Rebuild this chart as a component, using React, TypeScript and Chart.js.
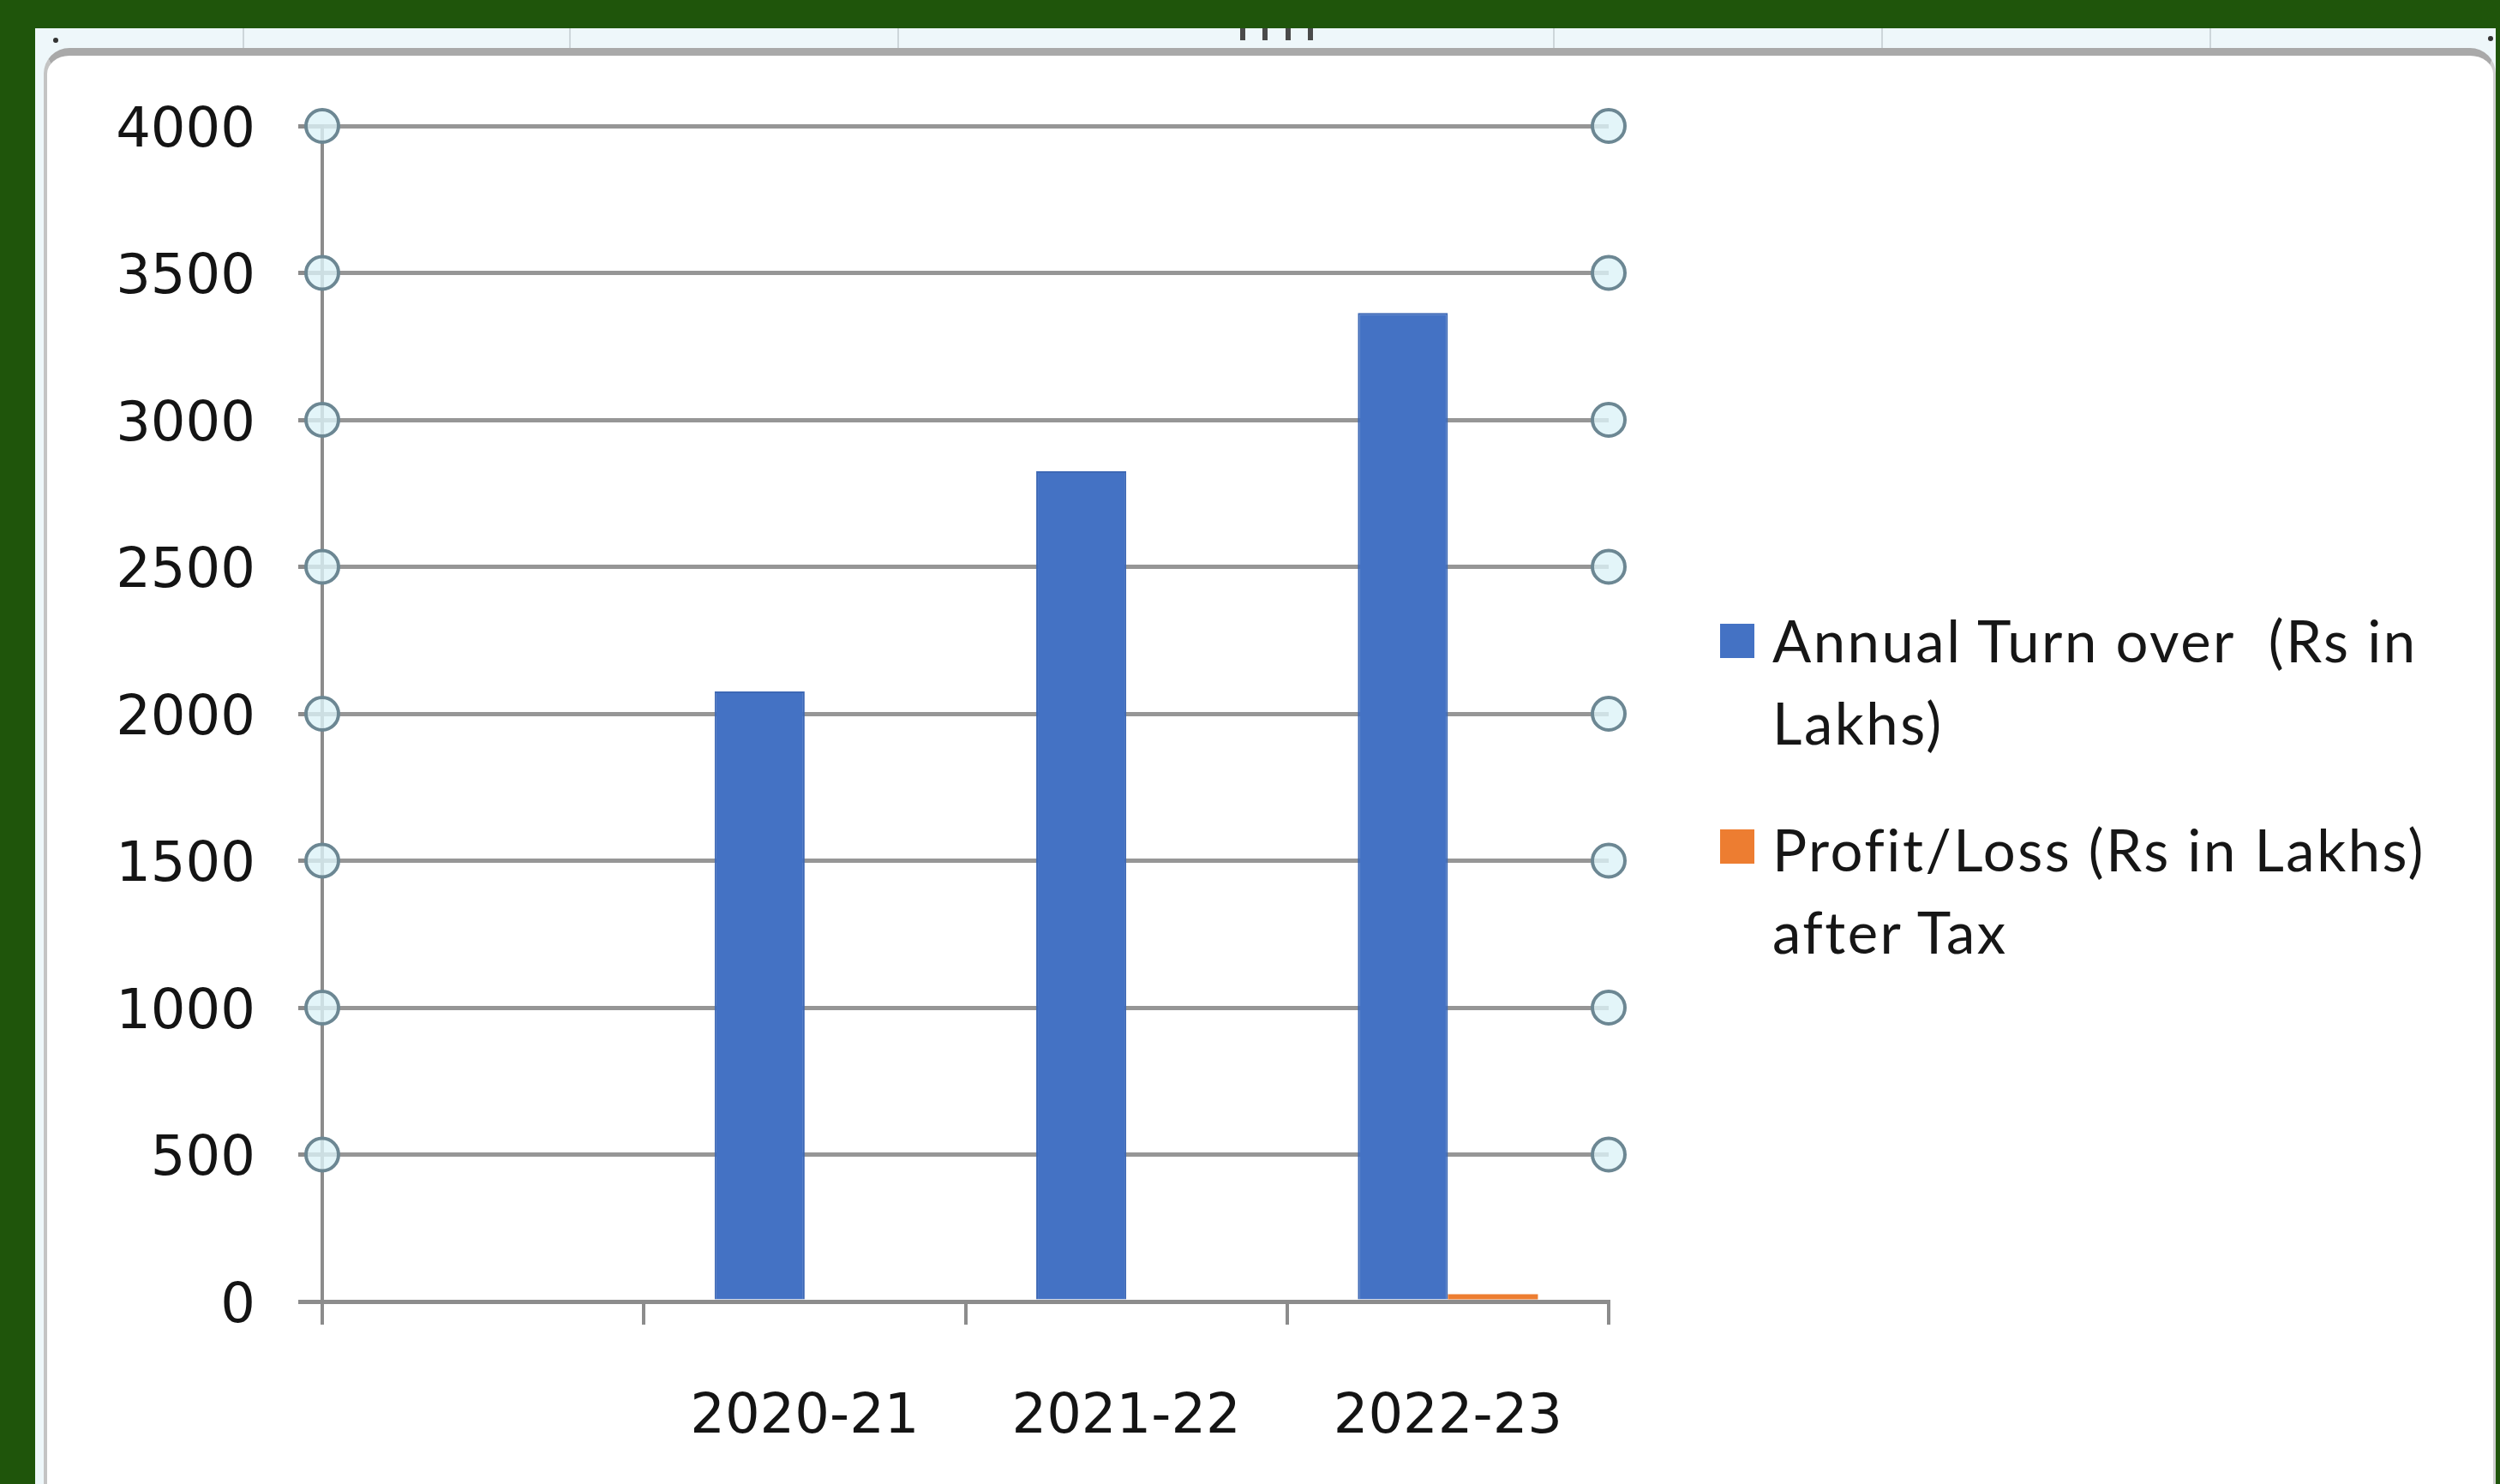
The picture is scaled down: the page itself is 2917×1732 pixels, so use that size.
import React, { useEffect, useRef } from 'react';
import { Chart, registerables } from 'chart.js';

Chart.register(...registerables);

// ---- data ----
const categories: string[] = ['', '2020-21', '2021-22', '2022-23'];
const turnover: (number | null)[] = [null, 2076, 2825, 3364];
const profitAfterTax: (number | null)[] = [null, 0, 0, 25];
const seriesNames: string[] = ['Annual Turn over  (Rs in Lakhs)', 'Profit/Loss (Rs in Lakhs) after Tax'];
const seriesColors: string[] = ['#4472c4', '#ed7d31'];
const yMin = 0;
const yMax = 4000;
const yStep = 500;

const W = 2917;
const H = 1732;

const gridHandles = {
  id: 'gridHandles',
  afterDraw(chart: any) {
    const { ctx, chartArea, scales } = chart;
    const y = scales.y;
    ctx.save();
    y.ticks.forEach((t: any) => {
      if (t.value === 0) return;
      const py = y.getPixelForValue(t.value);
      [chartArea.left, chartArea.right].forEach((px: number) => {
        ctx.beginPath();
        ctx.arc(px, py, 19, 0, Math.PI * 2);
        ctx.fillStyle = 'rgba(220,242,248,0.8)';
        ctx.fill();
        ctx.lineWidth = 4;
        ctx.strokeStyle = '#6c8793';
        ctx.stroke();
      });
    });
    ctx.restore();
  },
};

export default function App() {
  const canvasRef = useRef<HTMLCanvasElement | null>(null);

  useEffect(() => {
    const canvas = canvasRef.current;
    if (!canvas) return;
    const labelFont = { family: "'DejaVu Sans', Verdana, sans-serif", size: 64 };
    const chart = new Chart(canvas, {
      type: 'bar',
      data: {
        labels: categories,
        datasets: [
          {
            label: seriesNames[0],
            data: turnover,
            backgroundColor: seriesColors[0],
            borderColor: '#3d68b5',
            borderWidth: 2,
            categoryPercentage: 0.56,
            barPercentage: 1,
          },
          {
            label: seriesNames[1],
            data: profitAfterTax,
            backgroundColor: seriesColors[1],
            borderWidth: 0,
            categoryPercentage: 0.56,
            barPercentage: 1,
          },
        ],
      },
      options: {
        animation: false,
        responsive: false,
        maintainAspectRatio: false,
        devicePixelRatio: 1,
        layout: { padding: { left: 0, right: 1040, top: 147, bottom: 0 } },
        plugins: {
          legend: { display: false },
          tooltip: { enabled: false },
          title: { display: false },
        },
        scales: {
          x: {
            offset: true,
            grid: {
              offset: true,
              drawOnChartArea: false,
              drawTicks: true,
              tickLength: 27,
              color: '#8c8c8c',
              lineWidth: 4,
            },
            border: { display: true, color: '#8c8c8c', width: 5 },
            ticks: {
              font: labelFont,
              color: '#141414',
              padding: 71,
              maxRotation: 0,
              autoSkip: false,
            },
            afterFit: (s: any) => {
              s.height = 213;
            },
          },
          y: {
            min: yMin,
            max: yMax,
            grid: {
              color: '#969696',
              lineWidth: 5,
              tickLength: 28,
              tickColor: '#8c8c8c',
              drawTicks: true,
            },
            border: { display: true, color: '#8c8c8c', width: 4 },
            ticks: {
              stepSize: yStep,
              font: labelFont,
              color: '#141414',
              padding: 50,
              labelOffset: 7,
              callback: (v: any) => String(v),
            },
            afterFit: (s: any) => {
              s.width = 376;
            },
          },
        },
      },
      plugins: [gridHandles],
    });
    return () => chart.destroy();
  }, []);

  const colLines = [283, 664, 1047, 1812, 2195, 2578];
  const handleLines = [1447, 1473, 1500, 1526];
  const legendTops = [699, 943];
  const legendSquareTops = [728, 968];

  return (
    <div
      style={{
        position: 'fixed',
        left: 0,
        top: 0,
        width: W,
        height: H,
        background: '#1f550b',
        overflow: 'hidden',
      }}
    >
      <div
        style={{
          position: 'absolute',
          left: 41,
          top: 33,
          width: 2871,
          height: 1699,
          background: '#eef7fa',
        }}
      />
      {colLines.map((x) => (
        <div
          key={'c' + x}
          style={{ position: 'absolute', left: x, top: 33, width: 2, height: 24, background: '#cdd6da' }}
        />
      ))}
      {handleLines.map((x) => (
        <div
          key={'h' + x}
          style={{ position: 'absolute', left: x, top: 33, width: 6, height: 14, background: '#4a4a4a' }}
        />
      ))}
      <div style={{ position: 'absolute', left: 62, top: 44, width: 6, height: 6, borderRadius: 3, background: '#333' }} />
      <div style={{ position: 'absolute', left: 2903, top: 42, width: 6, height: 6, borderRadius: 3, background: '#333' }} />
      <div
        style={{
          position: 'absolute',
          left: 51,
          top: 56,
          width: 2861,
          height: 1700,
          boxSizing: 'border-box',
          background: '#ffffff',
          borderTop: '9px solid #a9a9a9',
          borderLeft: '4px solid #c4c4c4',
          borderRight: '3px solid #cfcfcf',
          borderTopLeftRadius: 30,
          borderTopRightRadius: 30,
        }}
      />
      <div style={{ position: 'absolute', left: 0, top: 0, width: W, height: H }}>
        <canvas ref={canvasRef} width={W} height={H} style={{ width: W, height: H, display: 'block' }} />
      </div>
      {seriesNames.map((name, i) => (
        <React.Fragment key={name}>
          <div
            style={{
              position: 'absolute',
              left: 2007,
              top: legendSquareTops[i],
              width: 40,
              height: 40,
              background: seriesColors[i],
            }}
          />
          <div
            style={{
              position: 'absolute',
              left: 2068,
              top: legendTops[i],
              width: 800,
              fontFamily: "Lato, 'Open Sans', sans-serif",
              fontSize: 67,
              lineHeight: '96px',
              letterSpacing: '2.5px',
              color: '#161616',
              whiteSpace: 'pre-wrap',
            }}
          >
            {name}
          </div>
        </React.Fragment>
      ))}
    </div>
  );
}
